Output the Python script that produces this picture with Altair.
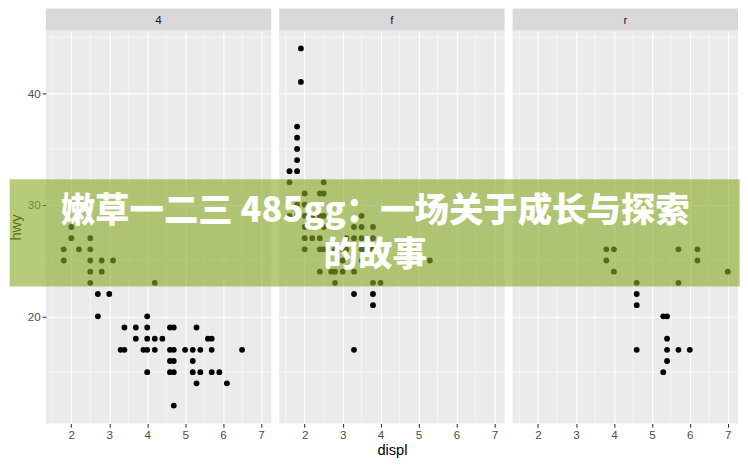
import altair as alt
import pandas as pd

# ---- data: displ vs hwy, split by drive train ----
PANELS = ["4", "f", "r"]

DISPL_4 = [1.8, 1.8, 2.0, 2.0, 2.2, 2.5, 2.5, 2.5, 2.5, 2.5, 2.7, 2.7, 2.8, 2.8, 3.0, 3.1,
           3.3, 3.4, 3.4, 3.7, 3.7, 3.9, 4.0, 4.0, 4.0, 4.0, 4.0, 4.2, 4.2, 4.2, 4.4, 4.6,
           4.6, 4.6, 4.6, 4.7, 4.7, 4.7, 4.7, 4.7, 5.0, 5.2, 5.2, 5.2, 5.3, 5.3, 5.4, 5.4,
           5.6, 5.7, 5.7, 5.7, 5.9, 6.1, 6.5]
HWY_4 = [26, 25, 28, 27, 26, 23, 24, 25, 26, 27, 20, 22, 24, 25, 22, 25,
         17, 17, 19, 18, 19, 17, 15, 17, 18, 19, 20, 17, 18, 23, 18, 15,
         16, 17, 19, 12, 15, 16, 17, 19, 17, 15, 16, 17, 14, 19, 15, 17,
         18, 15, 17, 18, 15, 14, 17]

DISPL_F = [1.6, 1.6, 1.6, 1.8, 1.8, 1.8, 1.8, 1.8, 1.8, 1.8, 1.9, 1.9, 2.0, 2.0, 2.0, 2.0,
           2.0, 2.0, 2.2, 2.2, 2.4, 2.4, 2.4, 2.4, 2.4, 2.4, 2.5, 2.5, 2.5, 2.5, 2.5, 2.7,
           2.8, 2.8, 2.8, 3.0, 3.0, 3.0, 3.1, 3.1, 3.3, 3.3, 3.3, 3.3, 3.3, 3.5, 3.5, 3.5,
           3.5, 3.5, 3.6, 3.8, 3.8, 3.8, 3.8, 3.8, 3.8, 4.0, 5.3]
HWY_F = [29, 32, 33, 29, 30, 33, 34, 35, 36, 37, 41, 44, 26, 27, 28, 29,
         30, 31, 27, 29, 24, 26, 27, 29, 30, 31, 26, 28, 29, 31, 32, 24,
         23, 24, 26, 24, 25, 26, 26, 27, 17, 22, 24, 27, 28, 25, 26, 27,
         28, 29, 26, 21, 22, 23, 26, 27, 28, 23, 25]

DISPL_R = [3.8, 3.8, 4.0, 4.0, 4.6, 4.6, 4.6, 4.6, 5.3, 5.3, 5.4, 5.4, 5.4, 5.4, 5.7, 5.7,
           5.7, 6.0, 6.2, 6.2, 7.0]
HWY_R = [25, 26, 24, 26, 17, 21, 22, 23, 15, 20, 16, 17, 18, 20, 17, 23,
         26, 17, 25, 26, 24]

DISPL = [DISPL_4, DISPL_F, DISPL_R]
HWY = [HWY_4, HWY_F, HWY_R]

X_DOMAIN = [1.33, 7.27]
Y_DOMAIN = [10.4, 45.6]
X_MAJOR = [2, 3, 4, 5, 6, 7]
X_MINOR = [1.5, 2.5, 3.5, 4.5, 5.5, 6.5]
Y_MAJOR = [20, 30, 40]
Y_MINOR = [15, 25, 35, 45]

BANNER_LINES = ["嫩草一二三 485gg：一场关于成长与探索", "的故事"]

# ---- layout constants (pixels) ----
W, H, SH, GAP = 226, 394, 22, 8
P1_LEFT, P_TOP = 44.3, 30.0          # window position of the first panel
P3_LEFT = P1_LEFT + 2 * (W + GAP)

FONT = "Liberation Sans"


def panel(i):
    df = pd.DataFrame({"displ": DISPL[i], "hwy": HWY[i]})
    xs = alt.Scale(domain=X_DOMAIN, nice=False, zero=False)
    ys = alt.Scale(domain=Y_DOMAIN, nice=False, zero=False)

    if i == 1:
        x_axis = alt.Axis(values=X_MAJOR, title="displ", grid=True)
    else:
        x_axis = alt.Axis(values=X_MAJOR, title=None, grid=True)
    if i == 0:
        y_axis = alt.Axis(values=Y_MAJOR, title="hwy", grid=True)
    else:
        y_axis = alt.Axis(values=Y_MAJOR, title=None, labels=False, ticks=False, grid=True)

    minor_x = alt.Chart(pd.DataFrame({"v": X_MINOR})).mark_rule(
        color="white", strokeWidth=0.55).encode(x=alt.X("v:Q", scale=xs, axis=x_axis))
    minor_y = alt.Chart(pd.DataFrame({"v": Y_MINOR})).mark_rule(
        color="white", strokeWidth=0.55).encode(y=alt.Y("v:Q", scale=ys, axis=y_axis))

    pts = alt.Chart(df).mark_circle(size=34, color="black", opacity=1).encode(
        x=alt.X("displ:Q", scale=xs, axis=x_axis),
        y=alt.Y("hwy:Q", scale=ys, axis=y_axis),
    )

    lab = pd.DataFrame({"label": [PANELS[i]]})
    strip_bg = alt.Chart(lab).mark_rect(color="#D9D9D9", clip=False).encode(
        x=alt.value(0), x2=alt.value(W), y=alt.value(-SH), y2=alt.value(0))
    strip_txt = alt.Chart(lab).mark_text(
        fontSize=11.7, color="#1A1A1A", font=FONT, baseline="middle", align="center"
    ).encode(text="label:N", x=alt.value(W / 2), y=alt.value(-SH / 2 + 0.5))

    layers = [minor_x, minor_y, pts, strip_bg, strip_txt]

    if i == 2:
        bdf = pd.DataFrame({"t": BANNER_LINES})
        banner = alt.Chart(bdf.head(1)).mark_rect(
            color="rgb(137,173,40)", opacity=0.62, clip=False
        ).encode(
            x=alt.value(8 - P3_LEFT), x2=alt.value(740 - P3_LEFT),
            y=alt.value(179 - P_TOP), y2=alt.value(286.7 - P_TOP))
        cx = 374.5 - P3_LEFT
        line1 = alt.Chart(bdf.head(1)).mark_text(
            font="Noto Sans CJK SC", fontWeight=900, fontSize=34.5, color="white",
            align="center", baseline="middle", clip=False
        ).encode(text="t:N", x=alt.value(cx), y=alt.value(211.5 - P_TOP))
        line2 = alt.Chart(bdf.tail(1)).mark_text(
            font="Noto Sans CJK SC", fontWeight=900, fontSize=34.5, color="white",
            align="center", baseline="middle", clip=False
        ).encode(text="t:N", x=alt.value(cx), y=alt.value(256 - P_TOP))
        layers += [banner, line1, line2]

    return alt.layer(*layers).properties(width=W, height=H)


chart = alt.hconcat(panel(0), panel(1), panel(2), spacing=GAP, bounds="flush").properties(
    padding=0, background="white"
).configure_view(
    stroke=None, fill="#EBEBEB"
).configure_axis(
    domain=False, grid=True, gridColor="white", gridWidth=1.1,
    tickColor="#333333", tickWidth=1.07, tickSize=3.7,
    labelColor="#4D4D4D", labelFontSize=11.7, labelFont=FONT, labelPadding=2,
    titleFont=FONT, titleFontSize=14.7, titleColor="black", titleFontWeight="normal",
    titlePadding=2, zindex=0,
).configure_axisY(titlePadding=4)

chart.save("out.html", embed_options={"renderer": "svg", "actions": False})
